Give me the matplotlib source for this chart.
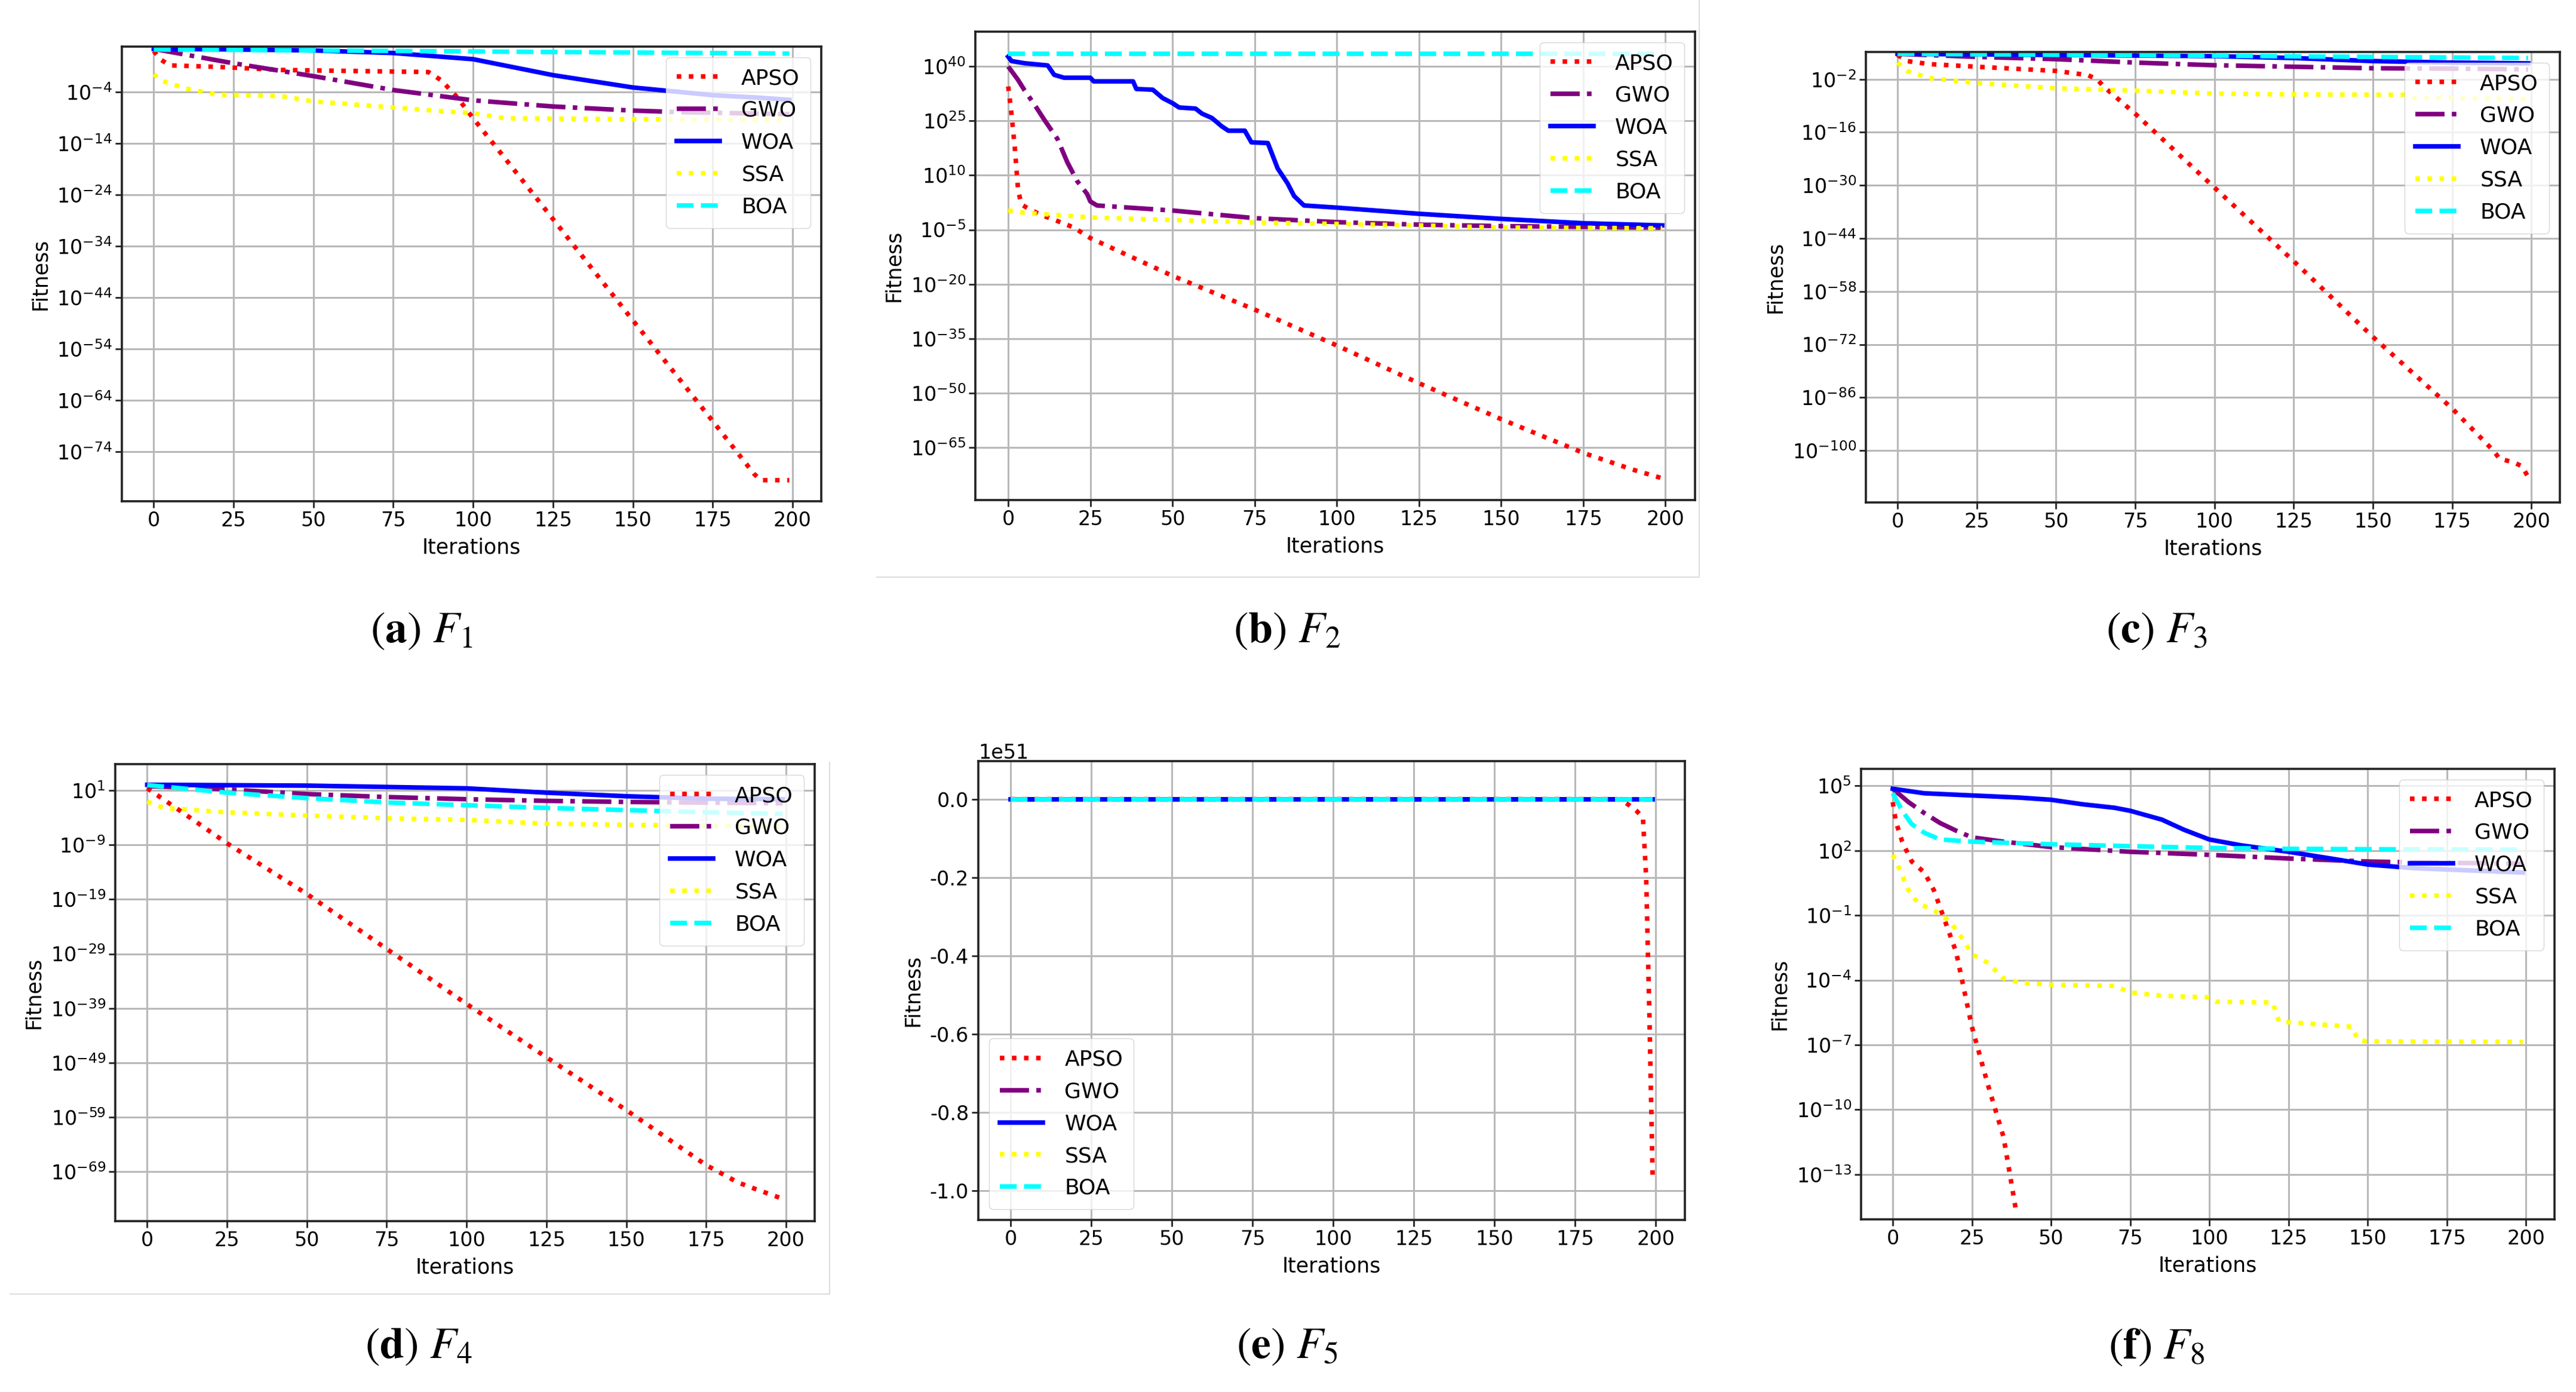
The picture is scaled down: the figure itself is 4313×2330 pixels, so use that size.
import numpy as np
import matplotlib
matplotlib.use('Agg')
import matplotlib.pyplot as plt
from matplotlib.ticker import FixedLocator, FuncFormatter, NullLocator
from matplotlib.lines import Line2D

plt.rcParams['font.family'] = ['DejaVu Sans']
plt.rcParams['axes.unicode_minus'] = False
plt.rcParams['mathtext.fontset'] = 'dejavusans'

ALGOS = ['APSO', 'GWO', 'WOA', 'SSA', 'BOA']
COLORS = ['red', 'purple', 'blue', 'yellow', 'cyan']
STYLES = [':', '-.', '-', ':', '--']

# convergence curves: (iteration, log10 fitness)
F1_APSO = [(0, 4.0), (2, 2.4), (5, 1.2), (20, 0.9), (40, 0.3), (86, -0.1), (90, -1.7), (95, -5.0),
           (100, -9.1), (110, -16.9), (125, -28.7), (150, -48.4), (175, -68.0), (188, -78.3), (190, -79.5), (199, -79.5)]
F1_GWO = [(0, 4.4), (25, 1.6), (50, -0.9), (75, -3.6), (100, -5.6), (125, -6.8), (150, -7.6), (165, -7.9), (199, -8.3)]
F1_WOA = [(0, 4.4), (25, 4.3), (50, 4.1), (75, 3.6), (100, 2.4), (125, -0.7), (150, -3.1), (175, -4.6), (190, -5.1), (199, -5.5)]
F1_SSA = [(0, -0.5), (2, -1.7), (10, -3.3), (20, -4.5), (40, -4.8), (50, -5.8), (75, -7.0), (90, -7.7),
          (100, -8.1), (110, -9.1), (199, -9.5)]
F1_BOA = [(0, 4.3), (50, 4.1), (100, 3.9), (150, 3.7), (199, 3.5)]

F2_APSO = [(0, 34.5), (1, 27.0), (2, 17.7), (3, 6.1), (4, 2.0), (6, 0.9), (10, -0.9), (15, -2.6), (20, -4.4),
           (25, -7.3), (50, -17.7), (75, -27.0), (100, -36.9), (125, -47.3), (150, -57.2), (175, -66.5),
           (190, -71.1), (199, -73.5)]
F2_GWO = [(0, 40.0), (3, 36.3), (5, 33.4), (8, 29.5), (11, 25.3), (15, 20.0), (18, 13.6), (21, 8.4), (24, 4.9),
          (25, 2.8), (27, 1.7), (50, 0.3), (75, -1.8), (100, -2.9), (125, -3.6), (150, -4.0), (199, -4.4)]
F2_WOA = [(0, 42.7), (1, 41.5), (5, 40.9), (12, 40.3), (14, 37.7), (17, 36.9), (25, 36.9), (26, 35.9), (38, 35.9),
          (39, 33.8), (44, 33.6), (47, 31.3), (50, 29.9), (52, 28.7), (57, 28.4), (59, 27.0), (62, 25.8),
          (65, 23.5), (67, 22.3), (72, 22.3), (74, 19.1), (79, 18.9), (82, 11.9), (85, 7.8), (87, 4.3),
          (90, 1.7), (100, 1.1), (125, -0.6), (150, -2.0), (175, -3.2), (199, -3.8)]
F2_SSA = [(0, 0.3), (5, -0.3), (25, -1.6), (50, -2.3), (75, -3.0), (100, -3.4), (125, -3.8), (150, -4.4), (199, -4.6)]
F2_BOA = [(0, 43.5), (199, 43.5)]

F3_APSO = [(0, 4.4), (3, 2.8), (10, 2.0), (25, 1.3), (50, 0.2), (60, -0.9), (63, -2.0), (65, -3.9), (75, -11.1),
           (100, -30.6), (125, -50.0), (150, -70.0), (175, -88.9), (188, -100.0), (190, -102.2), (194, -103.0),
           (197, -104.1), (199, -107.0)]
F3_GWO = [(0, 4.7), (25, 3.9), (50, 3.3), (75, 2.4), (100, 1.7), (125, 1.3), (150, 0.9), (175, 0.8), (199, 0.6)]
F3_WOA = [(0, 4.7), (100, 4.1), (125, 3.6), (150, 2.8), (175, 2.4), (199, 2.2)]
F3_SSA = [(0, 2.4), (3, 0.2), (10, -1.7), (25, -3.0), (50, -4.4), (75, -5.0), (100, -5.8), (125, -6.0),
          (160, -6.1), (163, -6.9), (199, -7.2)]
F3_BOA = [(0, 4.7), (100, 4.2), (199, 3.6)]

F4_APSO = [(0, 1.4), (10, -2.6), (25, -8.7), (50, -18.0), (75, -28.1), (100, -38.2), (125, -48.0), (150, -57.7),
           (175, -67.8), (185, -71.0), (190, -72.1), (199, -74.0)]
F4_GWO = [(0, 1.8), (25, 1.2), (50, 0.35), (75, -0.2), (100, -0.6), (125, -0.9), (150, -1.1), (199, -1.35)]
F4_WOA = [(0, 2.05), (50, 1.9), (100, 1.4), (125, 0.6), (150, -0.05), (175, -0.5), (199, -0.6)]
F4_SSA = [(0, -1.0), (5, -2.2), (25, -3.0), (50, -3.6), (75, -4.1), (100, -4.4), (125, -5.1), (150, -5.3), (199, -5.6)]
F4_BOA = [(0, 2.0), (25, 0.6), (50, -0.4), (75, -1.2), (100, -1.7), (125, -2.2), (150, -2.6), (175, -3.0), (199, -3.3)]

# F5 is on a linear axis, values in units of 1e51
F5_APSO = [(0, 0.0), (188, 0.0), (190, -0.006), (192, -0.017), (194, -0.03), (196, -0.047), (197, -0.2),
           (198, -0.55), (199, -0.963)]
F5_GWO = [(0, 0.0), (199, 0.0)]
F5_WOA = [(0, 0.0), (199, 0.0)]
F5_SSA = [(0, 0.0), (199, 0.0)]
F5_BOA = [(0, 0.0), (199, 0.0)]

F8_APSO = [(0, 4.24), (1, 3.33), (3, 2.41), (6, 1.49), (10, 0.98), (13, 0.16), (16, -1.06), (20, -2.69),
           (25, -6.16), (30, -8.82), (35, -11.27), (39, -14.73)]
F8_GWO = [(0, 4.86), (5, 4.24), (10, 3.73), (15, 3.27), (20, 2.92), (25, 2.61), (35, 2.41), (50, 2.16),
          (75, 1.94), (100, 1.8), (125, 1.63), (150, 1.49), (175, 1.43), (199, 1.39)]
F8_WOA = [(0, 4.86), (10, 4.65), (25, 4.55), (40, 4.45), (50, 4.35), (60, 4.14), (70, 3.98), (75, 3.84),
          (85, 3.43), (92, 2.96), (100, 2.51), (110, 2.24), (125, 1.94), (140, 1.59), (150, 1.35), (165, 1.18), (199, 0.98)]
F8_SSA = [(0, 1.8), (2, 1.18), (5, 0.16), (8, -0.45), (13, -0.76), (18, -1.27), (22, -2.08), (25, -2.8),
          (30, -3.2), (35, -3.92), (40, -4.12), (50, -4.22), (70, -4.27), (75, -4.57), (85, -4.73), (100, -4.8),
          (102, -5.0), (120, -5.04), (122, -5.92), (145, -6.16), (147, -6.78), (150, -6.84), (199, -6.86)]
F8_BOA = [(0, 4.65), (3, 3.84), (6, 3.22), (10, 2.82), (15, 2.51), (25, 2.41), (50, 2.29), (75, 2.2),
          (100, 2.12), (125, 2.08), (150, 2.06), (199, 2.04)]

F1_TICKS = [-4, -14, -24, -34, -44, -54, -64, -74]
F2_TICKS = [40, 25, 10, -5, -20, -35, -50, -65]
F3_TICKS = [-2, -16, -30, -44, -58, -72, -86, -100]
F4_TICKS = [1, -9, -19, -29, -39, -49, -59, -69]
F8_TICKS = [5, 2, -1, -4, -7, -10, -13]
X_TICKS = [0, 25, 50, 75, 100, 125, 150, 175, 200]

W, H = 4313, 2330


def rect(left, top, right, bottom):
    return [left / W, 1 - bottom / H, (right - left) / W, (bottom - top) / H]


def style_axes(ax):
    ax.set_axisbelow(True)
    ax.grid(True, color='#b8b8b8', lw=2.2)
    for s in ax.spines.values():
        s.set_linewidth(2.6)
        s.set_color('#222222')
    ax.tick_params(labelsize=24, length=8, width=2, color='#222222')
    ax.set_xticks(X_TICKS)
    ax.set_xlim(-10, 209)
    ax.set_xlabel('Iterations', fontsize=25, labelpad=8)
    ax.set_ylabel('Fitness', fontsize=25, labelpad=8)


def draw(ax, series, log=True, scale=1.0):
    for name, data, c, ls in zip(ALGOS, series, COLORS, STYLES):
        it = [p[0] for p in data]
        v = np.array([p[1] for p in data])
        if log:
            v = np.power(10.0, v)
        else:
            v = v * scale
        ax.plot(it, v, color=c, ls=ls, lw=5.5, label=name)


def log_axis(ax, ticks, lo, hi):
    ax.set_yscale('log')
    ax.set_ylim(10.0 ** lo, 10.0 ** hi)
    ax.yaxis.set_major_locator(FixedLocator([10.0 ** t for t in ticks]))
    ax.yaxis.set_minor_locator(NullLocator())
    ax.yaxis.set_major_formatter(FuncFormatter(lambda v, _: r'$10^{%d}$' % round(np.log10(v))))


fig = plt.figure(figsize=(W / 100, H / 100), dpi=100)

panels = [
    (rect(204, 78, 1375, 839), [F1_APSO, F1_GWO, F1_WOA, F1_SSA, F1_BOA], F1_TICKS, (-83.6, 4.85), 'upper right'),
    (rect(1633, 53, 2838, 837), [F2_APSO, F2_GWO, F2_WOA, F2_SSA, F2_BOA], F2_TICKS, (-79.5, 49.6), 'upper right'),
    (rect(3124, 87, 4286, 841), [F3_APSO, F3_GWO, F3_WOA, F3_SSA, F3_BOA], F3_TICKS, (-113.7, 5.2), 'upper right'),
    (rect(193, 1279, 1364, 2044), [F4_APSO, F4_GWO, F4_WOA, F4_SSA, F4_BOA], F4_TICKS, (-78.1, 5.85), 'upper right'),
    (rect(1638, 1274, 2821, 2042), [F5_APSO, F5_GWO, F5_WOA, F5_SSA, F5_BOA], None, (-1.075, 0.097), 'lower left'),
    (rect(3116, 1287, 4277, 2041), [F8_APSO, F8_GWO, F8_WOA, F8_SSA, F8_BOA], F8_TICKS, (-15.08, 5.78), 'upper right'),
]

for r, series, ticks, lims, loc in panels:
    ax = fig.add_axes(r)
    if ticks is None:
        draw(ax, series, log=False, scale=1e51)
        ax.set_ylim(lims[0] * 1e51, lims[1] * 1e51)
        ax.yaxis.get_offset_text().set_fontsize(24)
    else:
        draw(ax, series)
        log_axis(ax, ticks, *lims)
    style_axes(ax)
    ax.legend(loc=loc, fontsize=26, framealpha=0.8, borderpad=0.5, labelspacing=0.55,
              handlelength=2.0, handletextpad=1.0)

captions = [('a', '1', 706, 1058), ('b', '2', 2155, 1058), ('c', '3', 3611, 1058),
            ('d', '4', 701, 2256), ('e', '5', 2155, 2256), ('f', '8', 3611, 2256)]
plt.rcParams['mathtext.fontset'] = 'stix'
for letter, idx, x, y in captions:
    fig.text(x / W, 1 - y / H, r'($\mathbf{%s}$) $F_{%s}$' % (letter, idx), ha='center', va='center',
             fontsize=53, family='STIXGeneral')

# faint screenshot frames around panels (b) and (d)
fig.add_artist(Line2D([1468 / W, 2845 / W, 2845 / W], [1 - 966 / H, 1 - 966 / H, 1.0], color='#dddddd', lw=1.5))
fig.add_artist(Line2D([17 / W, 1389 / W, 1389 / W], [1 - 2166 / H, 1 - 2166 / H, 1 - 1276 / H], color='#dddddd', lw=1.5))

fig.savefig('out.png', dpi=100, facecolor='white')
